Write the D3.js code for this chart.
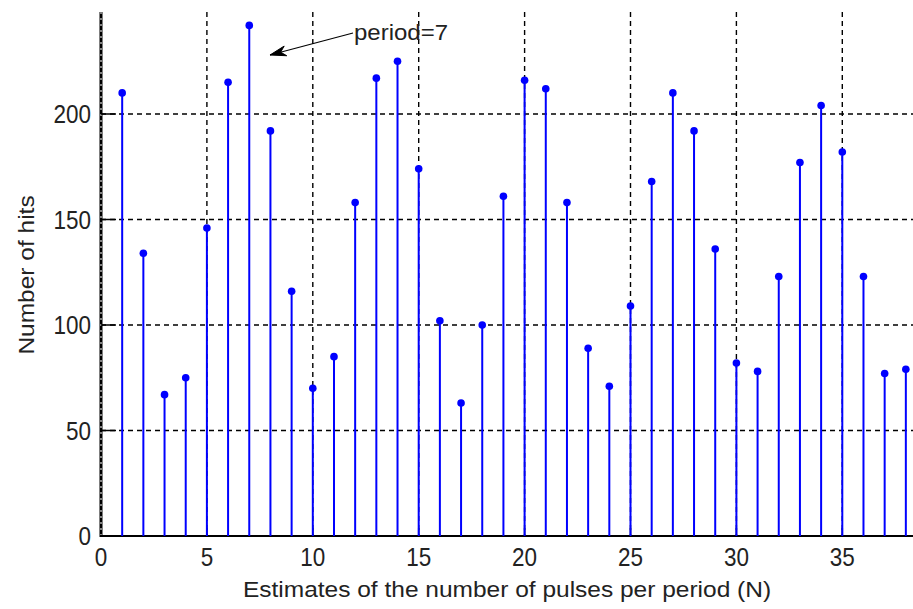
<!DOCTYPE html>
<html>
<head>
<meta charset="utf-8">
<script src="https://cdn.jsdelivr.net/npm/d3@7"></script>
<style>
  body { margin: 0; background: #fff; }
  text { font-family: Arial, "Liberation Sans", sans-serif; fill: #222; }
</style>
</head>
<body>
<script>
// data
const N = [1,2,3,4,5,6,7,8,9,10,11,12,13,14,15,16,17,18,19,20,21,22,23,24,25,26,27,28,29,30,31,32,33,34,35,36,37,38];
const hits = [210,134,67,75,146,215,242,192,116,70,85,158,217,225,174,102,63,100,161,216,212,158,89,71,109,168,210,192,136,82,78,123,177,204,182,123,77,79];
const xTicks = [0,5,10,15,20,25,30,35];
const yTicks = [0,50,100,150,200];
const xLabel = "Estimates of the number of pulses per period (N)";
const yLabel = "Number of hits";
const note = "period=7";

const W = 913, H = 609;
const mLeft = 101, mBottom = 536, mTop = 12;

const x = d3.scaleLinear().domain([0, 40]).range([mLeft, mLeft + 40 * 21.18]);
const y = d3.scaleLinear().domain([0, 250]).range([mBottom, mBottom - 250 * 2.11]);

const svg = d3.select("body").append("svg")
    .attr("width", W).attr("height", H);

// grid
const grid = svg.append("g")
    .attr("stroke", "#000").attr("stroke-width", 1.4)
    .attr("stroke-dasharray", "5,4");
grid.selectAll(".vg").data(xTicks.filter(d => d > 0)).enter()
  .append("line")
    .attr("x1", d => x(d)).attr("x2", d => x(d))
    .attr("y1", mTop).attr("y2", mBottom);
grid.selectAll(".hg").data(yTicks.filter(d => d > 0)).enter()
  .append("line")
    .attr("x1", mLeft).attr("x2", W)
    .attr("y1", d => y(d)).attr("y2", d => y(d));

// axes lines
svg.append("line")
    .attr("x1", mLeft).attr("x2", mLeft).attr("y1", mTop).attr("y2", mBottom + 1)
    .attr("stroke", "#000").attr("stroke-width", 3);
svg.append("line")
    .attr("x1", mLeft).attr("x2", mLeft).attr("y1", mTop).attr("y2", mBottom)
    .attr("stroke", "#fff").attr("stroke-width", 1)
    .attr("stroke-dasharray", "2,4");
svg.append("line")
    .attr("x1", mLeft - 1).attr("x2", W).attr("y1", mBottom).attr("y2", mBottom)
    .attr("stroke", "#000").attr("stroke-width", 2);

// inward ticks
svg.selectAll(".yt").data(yTicks.filter(d => d > 0)).enter()
  .append("line")
    .attr("x1", mLeft).attr("x2", mLeft + 15)
    .attr("y1", d => y(d)).attr("y2", d => y(d))
    .attr("stroke", "#000").attr("stroke-width", 1.5);
svg.selectAll(".xt").data(xTicks.filter(d => d > 0)).enter()
  .append("line")
    .attr("x1", d => x(d)).attr("x2", d => x(d))
    .attr("y1", mBottom).attr("y2", mBottom - 8)
    .attr("stroke", "#000").attr("stroke-width", 1.5);

// tick labels
svg.selectAll(".yl").data(yTicks).enter()
  .append("text")
    .attr("text-anchor", "end")
    .attr("font-size", 22.5)
    .attr("transform", d => `translate(${mLeft - 10},${y(d) + 9.2}) scale(1,1.12)`)
    .text(d => d);
svg.selectAll(".xl").data(xTicks).enter()
  .append("text")
    .attr("text-anchor", "middle")
    .attr("font-size", 22.5)
    .attr("transform", d => `translate(${x(d)},${mBottom + 29.7}) scale(1,1.12)`)
    .text(d => d);

// axis titles
svg.append("text")
    .attr("text-anchor", "middle")
    .attr("font-size", 24.5)
    .attr("transform", `translate(507,597) scale(1,0.87)`)
    .text(xLabel);
svg.append("text")
    .attr("text-anchor", "middle")
    .attr("font-size", 24.5)
    .attr("transform", `translate(34,275) rotate(-90) scale(1,0.87)`)
    .text(yLabel);

// stems
const stems = svg.append("g");
stems.selectAll("line").data(N).enter()
  .append("line")
    .attr("x1", d => x(d)).attr("x2", d => x(d))
    .attr("y1", mBottom).attr("y2", (d, i) => y(hits[i]))
    .attr("stroke", "#0000ff").attr("stroke-width", 2);
stems.selectAll("circle").data(N).enter()
  .append("circle")
    .attr("cx", d => x(d)).attr("cy", (d, i) => y(hits[i]))
    .attr("r", 3.8)
    .attr("fill", "#0000ff");

// annotation
const tip = [270, 55], tail = [353, 33];
svg.append("line")
    .attr("x1", tail[0]).attr("y1", tail[1])
    .attr("x2", tip[0]).attr("y2", tip[1])
    .attr("stroke", "#000").attr("stroke-width", 1.2);
const ang = Math.atan2(tail[1] - tip[1], tail[0] - tip[0]);
const hl = 16, hw = 5;
const bx = tip[0] + hl * Math.cos(ang), by = tip[1] + hl * Math.sin(ang);
svg.append("path")
    .attr("d", `M${tip[0]},${tip[1]} L${bx - hw * Math.sin(ang)},${by + hw * Math.cos(ang)} L${tip[0] + 11 * Math.cos(ang)},${tip[1] + 11 * Math.sin(ang)} L${bx + hw * Math.sin(ang)},${by - hw * Math.cos(ang)} Z`)
    .attr("fill", "#000").attr("stroke", "#000").attr("stroke-width", 1);
svg.append("text")
    .attr("font-size", 24)
    .attr("transform", `translate(354,40) scale(1,0.9)`)
    .text(note);
</script>
</body>
</html>
